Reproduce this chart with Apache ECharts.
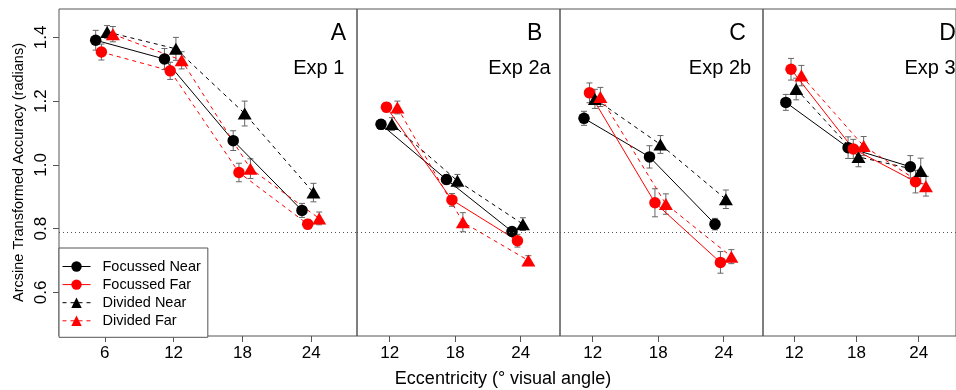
<!DOCTYPE html>
<html><head><meta charset="utf-8">
<script src="https://cdn.jsdelivr.net/npm/echarts@6/dist/echarts.min.js"></script>
<style>html,body{margin:0;padding:0;background:#fff}#c{width:956px;height:390px}</style>
</head><body><div id="c"></div>
<script>
// ---------- data ----------
const conditions = ['Focussed Near', 'Focussed Far', 'Divided Near', 'Divided Far'];
const panelLetters = ['A', 'B', 'C', 'D'];
const panelExps = ['Exp 1', 'Exp 2a', 'Exp 2b', 'Exp 3'];
const eccA = [6, 12, 18, 24];
const eccBCD = [12, 18, 24];
const yTicks = [0.6, 0.8, 1.0, 1.2, 1.4];
const xTicksA = [6, 12, 18, 24];
const xTicksBCD = [12, 18, 24];
const chanceLevel = 0.785;

// Panel A (Exp 1)
const A_FN = [1.391, 1.332, 1.076, 0.857];
const A_FF = [1.354, 1.295, 0.976, 0.814];
const A_DN = [1.417, 1.364, 1.161, 0.913];
const A_DF = [1.410, 1.328, 0.988, 0.832];
const A_FN_err = [0.031, 0.033, 0.031, 0.022];
const A_FF_err = [0.025, 0.027, 0.029, 0.015];
const A_DN_err = [0.020, 0.036, 0.039, 0.029];
const A_DF_err = [0.024, 0.027, 0.031, 0.020];

// Panel B (Exp 2a)
const B_FN = [1.127, 0.954, 0.791];
const B_FF = [1.181, 0.890, 0.762];
const B_DN = [1.128, 0.950, 0.814];
const B_DF = [1.180, 0.820, 0.700];
const B_FN_err = [0.015, 0.015, 0.012];
const B_FF_err = [0.015, 0.020, 0.020];
const B_DN_err = [0.020, 0.020, 0.020];
const B_DF_err = [0.020, 0.030, 0.015];

// Panel C (Exp 2b)
const C_FN = [1.146, 1.025, 0.814];
const C_FF = [1.226, 0.881, 0.694];
const C_DN = [1.207, 1.064, 0.892];
const C_DF = [1.213, 0.877, 0.712];
const C_FN_err = [0.022, 0.035, 0.018];
const C_FF_err = [0.031, 0.044, 0.034];
const C_DN_err = [0.030, 0.028, 0.029];
const C_DF_err = [0.030, 0.032, 0.022];

// Panel D (Exp 3)
const D_FN = [1.196, 1.054, 0.994];
const D_FF = [1.300, 1.050, 0.947];
const D_DN = [1.238, 1.025, 0.981];
const D_DF = [1.280, 1.059, 0.933];
const D_FN_err = [0.025, 0.034, 0.035];
const D_FF_err = [0.034, 0.030, 0.035];
const D_DN_err = [0.034, 0.031, 0.040];
const D_DF_err = [0.032, 0.030, 0.031];

// ---------- layout / style ----------
const FONT = 'Liberation Sans, Arial, Helvetica, sans-serif';
const dodge = [-0.8, -0.3, 0.2, 0.7];
const colors = ['#000000', '#ff0000', '#000000', '#ff0000'];
const symbols = ['circle', 'circle', 'triangle', 'triangle'];
const symSizes = [11.5, 11.5, [14, 12], [14, 12]];
const gridLeft = [59, 357, 560, 763];
const gridWidth = [298, 203, 203, 203];
const xRange = [[2, 28], [9, 27.6], [9, 27.6], [9, 27.6]];
const yMin = 0.463, yMax = 1.489;

const panels = [
  { ecc: eccA, ticks: xTicksA, vals: [A_FN, A_FF, A_DN, A_DF], errs: [A_FN_err, A_FF_err, A_DN_err, A_DF_err],
    lineTypes: ['solid', [4, 4], [4, 4], [4, 4]] },
  { ecc: eccBCD, ticks: xTicksBCD, vals: [B_FN, B_FF, B_DN, B_DF], errs: [B_FN_err, B_FF_err, B_DN_err, B_DF_err],
    lineTypes: ['solid', 'solid', [4, 4], [4, 4]] },
  { ecc: eccBCD, ticks: xTicksBCD, vals: [C_FN, C_FF, C_DN, C_DF], errs: [C_FN_err, C_FF_err, C_DN_err, C_DF_err],
    lineTypes: ['solid', 'solid', [4, 4], [4, 4]] },
  { ecc: eccBCD, ticks: xTicksBCD, vals: [D_FN, D_FF, D_DN, D_DF], errs: [D_FN_err, D_FF_err, D_DN_err, D_DF_err],
    lineTypes: ['solid', 'solid', [4, 4], [4, 4]] }
];

const grids = [], xAxes = [], yAxes = [], series = [];
panels.forEach((p, pi) => {
  grids.push({ left: gridLeft[pi], width: gridWidth[pi], top: 9, height: 327, show: true,
    borderColor: '#555', borderWidth: 1, backgroundColor: 'transparent' });
  xAxes.push({ type: 'value', gridIndex: pi, min: xRange[pi][0], max: xRange[pi][1],
    axisLine: { show: false }, splitLine: { show: false },
    axisTick: { show: true, customValues: p.ticks, length: 6, lineStyle: { color: '#555' } },
    axisLabel: { customValues: p.ticks, fontSize: 17, color: '#000', fontFamily: FONT, margin: 9 } });
  yAxes.push({ type: 'value', gridIndex: pi, min: yMin, max: yMax, show: pi === 0,
    axisLine: { show: false }, splitLine: { show: false },
    axisTick: { show: true, customValues: yTicks, length: 6, lineStyle: { color: '#555' } },
    axisLabel: { customValues: yTicks, rotate: 90, fontSize: 17, color: '#000', fontFamily: FONT, margin: 9,
      formatter: v => Number(v).toFixed(1) } });
  // error bars
  for (let c = 0; c < 4; c++) {
    series.push({
      type: 'custom', xAxisIndex: pi, yAxisIndex: pi, z: 1, silent: true,
      data: p.ecc.map((e, i) => [e + dodge[c], p.vals[c][i] - p.errs[c][i], p.vals[c][i] + p.errs[c][i]]),
      encode: { x: 0, y: [1, 2] },
      renderItem: (params, api) => {
        const x = api.value(0);
        const lo = api.coord([x, api.value(1)]);
        const hi = api.coord([x, api.value(2)]);
        const st = { stroke: '#666', lineWidth: 1 };
        return { type: 'group', children: [
          { type: 'line', shape: { x1: lo[0], y1: lo[1], x2: hi[0], y2: hi[1] }, style: st },
          { type: 'line', shape: { x1: lo[0] - 3, y1: lo[1], x2: lo[0] + 3, y2: lo[1] }, style: st },
          { type: 'line', shape: { x1: hi[0] - 3, y1: hi[1], x2: hi[0] + 3, y2: hi[1] }, style: st }
        ] };
      }
    });
  }
  // lines + markers
  for (let c = 0; c < 4; c++) {
    const s = {
      type: 'line', name: conditions[c], xAxisIndex: pi, yAxisIndex: pi, z: 3,
      data: p.ecc.map((e, i) => [e + dodge[c], p.vals[c][i]]),
      symbol: symbols[c], symbolSize: symSizes[c], showSymbol: true, animation: false,
      itemStyle: { color: colors[c], opacity: 1 },
      lineStyle: { color: colors[c], width: 1, type: p.lineTypes[c] },
      emphasis: { disabled: true }
    };
    if (c === 0) {
      s.markLine = { silent: true, symbol: 'none', animation: false,
        label: { show: false },
        lineStyle: { type: [1, 3], color: '#555', width: 1 },
        data: [{ yAxis: chanceLevel }] };
    }
    series.push(s);
  }
});

const graphics = [];
const letterX = [338.3, 534.7, 737.5, 947.5];
const expX = [318.8, 519.5, 720, 930];
panelLetters.forEach((t, i) => {
  graphics.push({ type: 'text', x: letterX[i], y: 33.6, style: { text: t, font: '23px ' + FONT,
    fill: '#000', align: 'center', verticalAlign: 'middle' } });
  graphics.push({ type: 'text', x: expX[i], y: 68.3, style: { text: panelExps[i], font: '20px ' + FONT,
    fill: '#000', align: 'center', verticalAlign: 'middle' } });
});
graphics.push({ type: 'text', x: 19, y: 172.5, rotation: Math.PI / 2,
  style: { text: 'Arcsine Transformed Accuracy (radians)', font: '14.5px ' + FONT, fill: '#000',
    align: 'center', verticalAlign: 'middle' } });
graphics.push({ type: 'text', x: 503, y: 379,
  style: { text: 'Eccentricity (° visual angle)', font: '18px ' + FONT, fill: '#000',
    align: 'center', verticalAlign: 'middle' } });

const chart = echarts.init(document.getElementById('c'), null, { renderer: 'canvas' });
chart.setOption({
  animation: false,
  backgroundColor: '#fff',
  grid: grids, xAxis: xAxes, yAxis: yAxes, series: series,
  legend: {
    left: 59, top: 248, orient: 'vertical', selectedMode: false,
    borderColor: '#555', borderWidth: 1, borderRadius: 0, backgroundColor: '#fff',
    padding: [11, 7, 9, 3], itemGap: 3.1, itemWidth: 28, itemHeight: 13,
    textStyle: { fontSize: 14.5, fontFamily: FONT, color: '#000', padding: [0, 0, 0, 7] },
    data: [
      { name: 'Focussed Near', lineStyle: { type: 'solid', color: '#000', width: 1 } },
      { name: 'Focussed Far', lineStyle: { type: 'solid', color: '#ff0000', width: 1 } },
      { name: 'Divided Near', lineStyle: { type: [4, 4], color: '#000', width: 1 } },
      { name: 'Divided Far', lineStyle: { type: [4, 4], color: '#ff0000', width: 1 } }
    ]
  },
  graphic: graphics
});
</script></body></html>
